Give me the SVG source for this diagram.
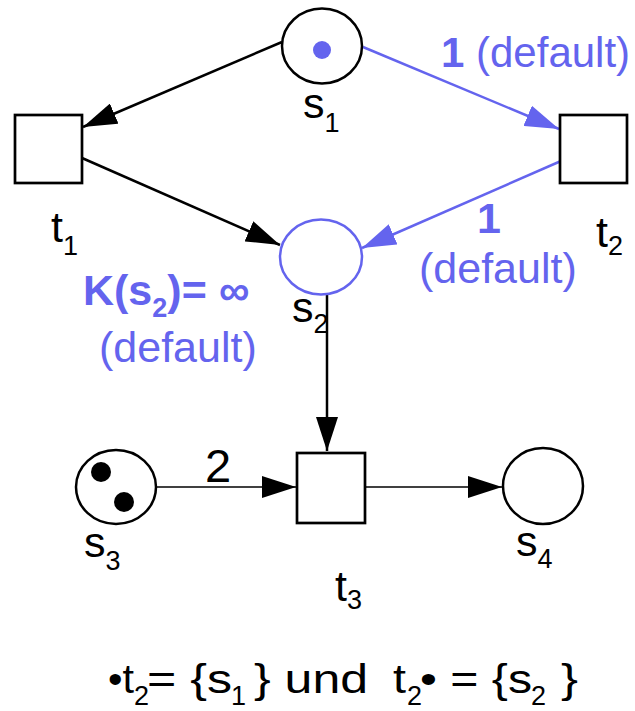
<svg xmlns="http://www.w3.org/2000/svg" width="635" height="711" viewBox="0 0 635 711">
<style>
text{font-family:"Liberation Sans",Arial,sans-serif;}
.lbl{font-size:43px;fill:#000;}
.sub{font-size:27px;}
.blue{fill:#6464ee;}
.bt{font-size:41px;fill:#000;}
.bs{font-size:27px;fill:#000;}
.place{fill:#fff;stroke:#000;stroke-width:2.5;}
.trans{fill:#fff;stroke:#000;stroke-width:2.7;}
.arc{fill:none;stroke:#000;stroke-width:2.5;}
.arcb{fill:none;stroke:#6464ee;stroke-width:2.5;}
.thin{stroke-width:1.5;}
</style>
<defs>
<marker id="ah" markerUnits="userSpaceOnUse" markerWidth="34" markerHeight="22" refX="34" refY="11" orient="auto" viewBox="0 0 34 22">
<path d="M0,0 L34,11 L0,22 z" fill="#000"/>
</marker>
<marker id="ahb" markerUnits="userSpaceOnUse" markerWidth="34" markerHeight="22" refX="34" refY="11" orient="auto" viewBox="0 0 34 22">
<path d="M0,0 L34,11 L0,22 z" fill="#6464ee"/>
</marker>
</defs>
<rect width="635" height="711" fill="#fff"/>
<g id="connectors">
<line class="arc" x1="282" y1="42" x2="83" y2="127" marker-end="url(#ah)"/>
<line class="arc" x1="82" y1="158" x2="280" y2="245" marker-end="url(#ah)"/>
<line class="arcb" x1="363" y1="47" x2="559" y2="129" marker-end="url(#ahb)"/>
<line class="arcb" x1="561" y1="161" x2="362" y2="248" marker-end="url(#ahb)"/>
<line class="arc" x1="327" y1="294" x2="327" y2="451" marker-end="url(#ah)"/>
<line class="arc thin" x1="157" y1="487" x2="296" y2="487" marker-end="url(#ah)"/>
<line class="arc thin" x1="365" y1="487" x2="502" y2="487" marker-end="url(#ah)"/>
</g>
<g id="s1">
<ellipse class="place" cx="322" cy="46" rx="40" ry="37.5"/>
<circle cx="322" cy="50" r="9" fill="#6464ee"/>
<text class="lbl" x="303" y="118">s<tspan class="sub" dy="14">1</tspan></text>
</g>
<g id="t1">
<rect class="trans" x="15" y="115" width="67" height="68"/>
<text class="lbl" x="51" y="242">t<tspan class="sub" dy="13">1</tspan></text>
</g>
<g id="t2">
<rect class="trans" x="560" y="115" width="67" height="68"/>
<text class="lbl" x="596" y="247">t<tspan class="sub" dy="8">2</tspan></text>
</g>
<g id="s2">
<ellipse cx="321" cy="257" rx="41" ry="37.5" fill="#fff" stroke="#6464ee" stroke-width="2.5"/>
<text class="lbl" x="292" y="322">s<tspan class="sub" dy="11">2</tspan></text>
</g>
<g id="s3">
<ellipse class="place" cx="116" cy="487" rx="40" ry="37"/>
<circle cx="101" cy="472" r="10" fill="#000"/>
<circle cx="124" cy="502" r="10" fill="#000"/>
<text class="lbl" x="84" y="557">s<tspan class="sub" dy="13">3</tspan></text>
</g>
<g id="t3">
<rect class="trans" x="297" y="453" width="68" height="70"/>
<text class="lbl" x="335" y="601">t<tspan class="sub" dy="8">3</tspan></text>
</g>
<g id="s4">
<ellipse class="place" cx="543" cy="486" rx="40" ry="38"/>
<text class="lbl" x="516" y="556">s<tspan class="sub" dy="12">4</tspan></text>
</g>
<g id="labels">
<text x="205" y="482" style="font-size:47px;fill:#000">2</text>
<text class="blue" x="441" y="67" style="font-size:42px"><tspan font-weight="bold">1</tspan> (default)</text>
<text class="lbl blue" x="477" y="233" font-weight="bold">1</text>
<text class="lbl blue" x="419" y="283">(default)</text>
<text class="lbl blue" x="83" y="305" font-weight="bold">K(s<tspan class="sub" dy="12">2</tspan><tspan dy="-12">)= ∞</tspan></text>
<text class="lbl blue" x="99" y="362">(default)</text>
</g>
<g id="formula">
<text class="bt" x="108" y="693" textLength="26" lengthAdjust="spacingAndGlyphs">•t</text>
<text class="bs" x="134" y="705">2</text>
<text class="bt" x="147" y="693" textLength="85" lengthAdjust="spacingAndGlyphs">= {s</text>
<text class="bs" x="231" y="705">1</text>
<text class="bt" x="254" y="693" textLength="114" lengthAdjust="spacingAndGlyphs">} und</text>
<text class="bt" x="393" y="693" textLength="13" lengthAdjust="spacingAndGlyphs">t</text>
<text class="bs" x="407" y="705">2</text>
<text class="bt" x="420" y="693" textLength="112" lengthAdjust="spacingAndGlyphs">• = {s</text>
<text class="bs" x="531" y="705">2</text>
<text class="bt" x="561" y="693" textLength="17" lengthAdjust="spacingAndGlyphs">}</text>
</g>
</svg>
